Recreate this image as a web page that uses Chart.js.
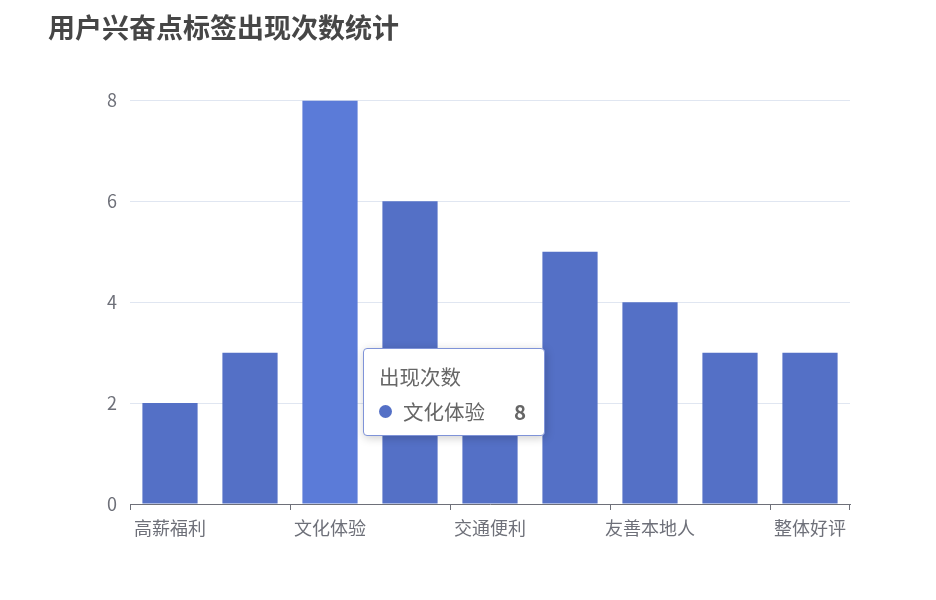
<!DOCTYPE html>
<html lang="zh">
<head>
  <meta charset="UTF-8" />
  <title>用户兴奋点标签出现次数统计</title>
  <script src="https://cdn.jsdelivr.net/npm/chart.js"></script>
  <style>
    * { margin: 0; padding: 0; box-sizing: border-box; }
    body { background: #fff; font-family: 'Noto Sans CJK SC', 'Noto Sans', sans-serif; }
    .wrap { position: relative; width: 936px; height: 600px; }
    #tip {
      position: absolute;
      display: none;
      background: #fff;
      border: 1px solid #7f93d8;
      border-radius: 4px;
      box-shadow: 1px 2px 10px rgba(0, 0, 0, 0.2);
      padding: 14px 18px 10px 15px;
      color: #666;
      font-size: 20.5px;
      line-height: 27.5px;
      white-space: nowrap;
      pointer-events: none;
      width: 182px;
    }
    #tip .row { display: flex; align-items: center; margin-top: 7px; }
    #tip .dot { width: 13px; height: 13px; border-radius: 50%; background: #5470c6; margin-right: 11px; }
    #tip .val { margin-left: auto; font-weight: bold; color: #666; }
  </style>
</head>
<body>
  <div class="wrap">
    <canvas id="chart" width="936" height="600"></canvas>
    <div id="tip"></div>
  </div>

  <script>
    const categories = ['高薪福利', '城市繁华', '文化体验', '美食丰富', '交通便利', '风景优美', '友善本地人', '治安良好', '整体好评'];
    const counts = [2, 3, 8, 6, 2, 5, 4, 3, 3];
    const seriesName = '出现次数';
    const yTicks = [0, 2, 4, 6, 8];
    const activeIndex = 2;

    const FONT = "'Noto Sans CJK SC', 'Noto Sans', sans-serif";

    // ECharts-like tooltip rendered as html
    function externalTip(context) {
      const tip = document.getElementById('tip');
      const t = context.tooltip;
      if (t.opacity === 0 || !t.dataPoints || !t.dataPoints.length) {
        tip.style.display = 'none';
        return;
      }
      const dp = t.dataPoints[0];
      tip.innerHTML =
        '<div>' + dp.dataset.label + '</div>' +
        '<div class="row"><span class="dot"></span><span>' + dp.label + '</span>' +
        '<span class="val">' + dp.formattedValue + '</span></div>';
      tip.style.display = 'block';
      tip.style.left = t.caretX + 'px';
      tip.style.top = t.caretY + 'px';
    }

    Chart.Tooltip.positioners.mouse = function (elements, eventPosition) {
      return { x: eventPosition.x, y: eventPosition.y };
    };

    // x axis tick marks on every other category boundary
    const axisTicks = {
      id: 'axisTicks',
      afterDraw(chart) {
        const x = chart.scales.x;
        const ctx = chart.ctx;
        const half = (x.getPixelForTick(1) - x.getPixelForTick(0)) / 2;
        const y0 = chart.chartArea.bottom;
        ctx.save();
        ctx.strokeStyle = '#6e7079';
        ctx.lineWidth = 1;
        ctx.beginPath();
        for (let i = 0; i < categories.length; i += 2) {
          const px = Math.round(x.getPixelForTick(i) - half) + 0.5;
          ctx.moveTo(px, y0);
          ctx.lineTo(px, y0 + 6);
        }
        const end = Math.round(x.getPixelForTick(categories.length - 1) + half) - 0.5;
        ctx.moveTo(end, y0);
        ctx.lineTo(end, y0 + 6);
        ctx.stroke();
        ctx.restore();
      }
    };

    const chart = new Chart(document.getElementById('chart'), {
      type: 'bar',
      data: {
        labels: categories,
        datasets: [{
          label: seriesName,
          data: counts,
          backgroundColor: '#5470c6',
          hoverBackgroundColor: '#5b7bd8',
          borderWidth: 0,
          categoryPercentage: 1,
          barPercentage: 0.69
        }]
      },
      options: {
        responsive: false,
        animation: false,
        events: [],
        layout: { padding: { left: 48, right: 86, top: 0, bottom: 0 } },
        plugins: {
          legend: { display: false },
          title: {
            display: true,
            text: '用户兴奋点标签出现次数统计',
            align: 'start',
            color: '#464646',
            font: { family: FONT, size: 27, weight: 'bold', lineHeight: 1.2 },
            padding: { top: 12, bottom: 56 }
          },
          tooltip: {
            enabled: false,
            position: 'mouse',
            external: externalTip
          }
        },
        scales: {
          x: {
            offset: true,
            grid: { display: false },
            border: { display: true, color: '#6e7079', width: 1 },
            ticks: {
              autoSkip: false,
              maxRotation: 0,
              color: '#6e7079',
              padding: 5,
              font: { family: FONT, size: 18 },
              callback: function (v, i) { return i % 2 === 0 ? categories[i] : ''; }
            },
            afterFit(scale) { scale.height = 96; }
          },
          y: {
            min: 0,
            max: 8,
            afterBuildTicks(scale) { scale.ticks = yTicks.map(v => ({ value: v })); },
            grid: { color: '#e0e6f1', drawTicks: false },
            border: { display: false },
            ticks: {
              color: '#6e7079',
              padding: 13,
              font: { family: FONT, size: 18 }
            },
            afterFit(scale) { scale.width = 82; }
          }
        }
      },
      plugins: [axisTicks]
    });

    const active = [{ datasetIndex: 0, index: activeIndex }];
    chart.setActiveElements(active);
    chart.tooltip.setActiveElements(active, { x: 363, y: 348 });
    chart.update();
  </script>
</body>
</html>
